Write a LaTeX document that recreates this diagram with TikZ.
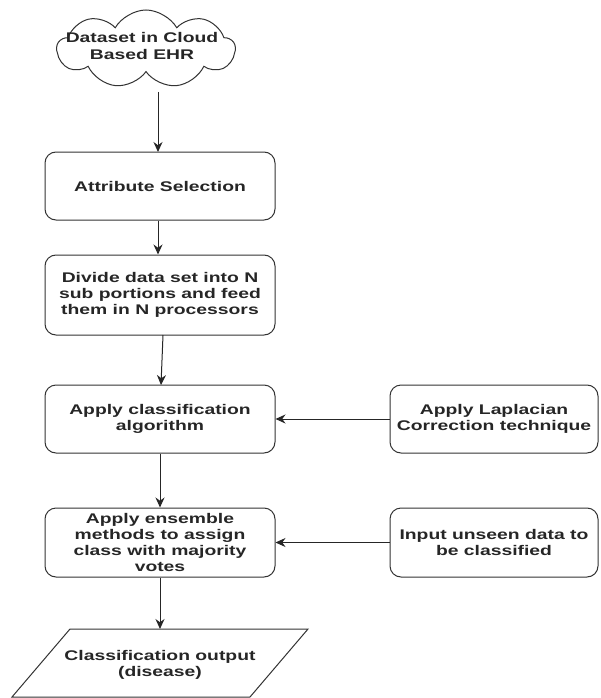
\documentclass[tikz,border=0pt]{standalone}
\usepackage{fontspec}
\setmainfont[FakeStretch=1.38]{Liberation Sans}
\usetikzlibrary{arrows.meta,shapes.symbols}
\begin{document}
\begin{tikzpicture}[x=1pt,y=-1pt,
  txt/.style={font=\bfseries\fontsize{14}{16.2}\selectfont,align=center,text=black!85},
  box/.style={txt,draw=black!80,line width=1pt,rounded corners=11pt,minimum width=230pt,minimum height=68pt,inner sep=1pt},
  rbox/.style={box,minimum width=208pt},
  conn/.style={draw=black!85,line width=1pt,-{Stealth[length=10pt,width=9pt]}}]
\useasboundingbox (0,0) rectangle (600,698);
\node[txt,cloud,draw=black!80,line width=1pt,cloud puffs=9,cloud puff arc=120,aspect=2.3,minimum width=178pt,minimum height=78pt,inner sep=0pt] (cloud) at (146,49) {};
\node[txt] (cloudt) at (142,46) {Dataset in Cloud\\Based EHR};
\node[box] (attr) at (160,186) {Attribute Selection};
\node[box,minimum height=80pt] (div) at (160,295) {Divide data set into N\\sub portions and feed\\them in N processors};
\node[box] (apply) at (160,419) {Apply classification\\algorithm};
\node[box,minimum height=69pt] (ens) at (160,542.5) {Apply ensemble\\methods to assign\\class with majority\\votes};
\node[rbox] (lap) at (494,419) {Apply Laplacian\\Correction technique};
\node[rbox,minimum height=69pt] (inp) at (494,542.5) {Input unseen data to\\be classified};
\coordinate (p1) at (70,629);
\coordinate (p2) at (308,629);
\coordinate (p3) at (250,697);
\coordinate (p4) at (12,697);
\draw[draw=black!80,line width=1pt] (p1) -- (p2) -- (p3) -- (p4) -- cycle;
\node[txt] (out) at (160,665) {Classification output\\(disease)};
\coordinate (cb) at (158,92);
\coordinate (at) at (158,152);
\draw[conn] (cb) -- (at);
\draw[conn] (attr.south -| at) -- (div.north -| at);
\draw[conn] (163,335) -- (161,385);
\draw[conn] (apply.south) -- (ens.north);
\coordinate (otop) at (160,629);
\draw[conn] (ens.south) -- (otop);
\draw[conn] (lap.west) -- (apply.east);
\draw[conn] (inp.west) -- (ens.east);
\end{tikzpicture}
\end{document}
